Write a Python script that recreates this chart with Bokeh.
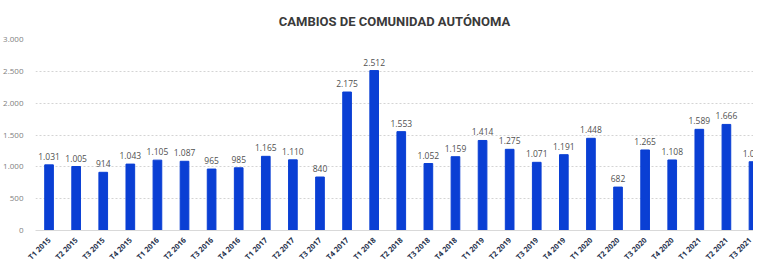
from bokeh.plotting import figure
from bokeh.models import ColumnDataSource, FixedTicker, Range1d
from bokeh.embed import file_html
from bokeh.resources import INLINE
from bokeh.core.properties import value
import math

categories = ["T1 2015", "T2 2015", "T3 2015", "T4 2015",
              "T1 2016", "T2 2016", "T3 2016", "T4 2016",
              "T1 2017", "T2 2017", "T3 2017", "T4 2017",
              "T1 2018", "T2 2018", "T3 2018", "T4 2018",
              "T1 2019", "T2 2019", "T3 2019", "T4 2019",
              "T1 2020", "T2 2020", "T3 2020", "T4 2020",
              "T1 2021", "T2 2021", "T3 2021"]
cambios = [1031, 1005, 914, 1043,
           1105, 1087, 965, 985,
           1165, 1110, 840, 2175,
           2512, 1553, 1052, 1159,
           1414, 1275, 1071, 1191,
           1448, 682, 1265, 1108,
           1589, 1666, 1080]
y_ticks = [0, 500, 1000, 1500, 2000, 2500, 3000]
y_tick_labels = ["0", "500", "1.000", "1.500", "2.000", "2.500", "3.000"]


def es_fmt(v):
    return f"{v:,}".replace(",", ".")


xs = list(range(len(categories)))
src = ColumnDataSource(dict(x=xs, top=cambios, label=[es_fmt(v) for v in cambios]))

p = figure(frame_width=718, frame_height=191, output_backend="svg", toolbar_location=None,
           x_range=Range1d(-0.5, 26.0), y_range=Range1d(0, 3000),
           min_border_left=31, min_border_right=0, min_border_top=39, min_border_bottom=0)

p.title.text = "CAMBIOS DE COMUNIDAD AUTÓNOMA"
p.title.align = "center"
p.title.offset = -57
p.title.text_font = "Roboto"
p.title.text_font_size = "13px"
p.title.text_font_style = "bold"
p.title.text_color = "#3a3a3a"
p.title.standoff = 21

p.vbar(x="x", top="top", width=0.32, source=src, color="#0a3fd4")
p.text(x="x", y="top", text="label", source=src, text_align="center",
       text_baseline="bottom", y_offset=-5, text_font=value("Open Sans"),
       text_font_size="8.5px", text_color="#505050")

p.outline_line_color = None
p.xgrid.grid_line_color = None
p.ygrid.grid_line_color = "#d4d4d4"
p.ygrid.grid_line_dash = "2 2"
p.ygrid.ticker = FixedTicker(ticks=y_ticks[1:])

p.yaxis.ticker = FixedTicker(ticks=y_ticks)
p.yaxis.major_label_overrides = {t: l for t, l in zip(y_ticks, y_tick_labels)}
p.yaxis.axis_line_color = None
p.yaxis.major_tick_line_color = None
p.yaxis.minor_tick_line_color = None
p.yaxis.major_label_text_font = "Open Sans"
p.yaxis.major_label_text_font_size = "8px"
p.yaxis.major_label_text_color = "#808080"
p.yaxis.major_label_standoff = 6

p.xaxis.ticker = FixedTicker(ticks=xs)
p.xaxis.major_label_overrides = {i: c for i, c in zip(xs, categories)}
p.xaxis.major_label_orientation = math.pi / 4
p.xaxis.axis_line_color = "#d9d9d9"
p.xaxis.major_tick_line_color = None
p.xaxis.minor_tick_line_color = None
p.xaxis.major_label_text_font = "Open Sans"
p.xaxis.major_label_text_font_size = "7.5px"
p.xaxis.major_label_text_font_style = "bold"
p.xaxis.major_label_text_color = "#2a3550"
p.xaxis.major_label_standoff = 2

open("out.html", "w").write(file_html(p, INLINE))
